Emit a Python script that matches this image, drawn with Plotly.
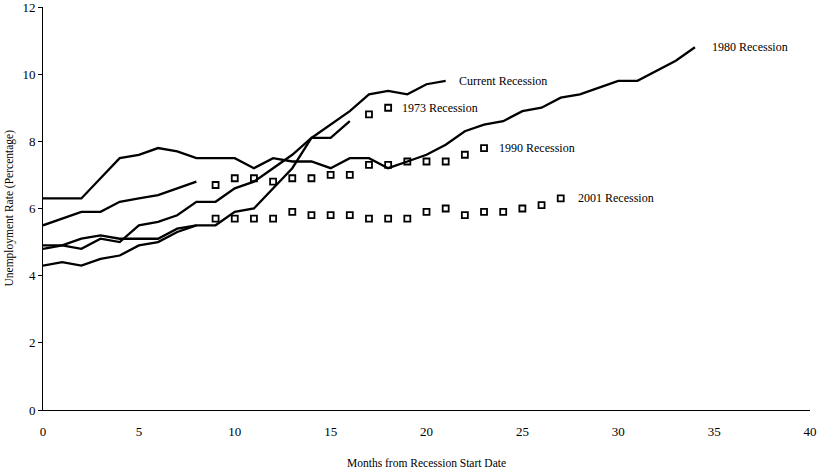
import plotly.graph_objects as go

# Months from recession start
months_1980 = list(range(0, 35))
rate_1980 = [6.3, 6.3, 6.3, 6.9, 7.5, 7.6, 7.8, 7.7, 7.5, 7.5, 7.5, 7.2, 7.5, 7.4, 7.4,
             7.2, 7.5, 7.5, 7.2, 7.4, 7.6, 7.9, 8.3, 8.5, 8.6, 8.9, 9.0, 9.3, 9.4, 9.6,
             9.8, 9.8, 10.1, 10.4, 10.8]

months_current = list(range(0, 22))
rate_current = [4.9, 4.9, 4.8, 5.1, 5.0, 5.5, 5.6, 5.8, 6.2, 6.2, 6.6, 6.8, 7.2, 7.6,
                8.1, 8.5, 8.9, 9.4, 9.5, 9.4, 9.7, 9.8]

months_1973_line = list(range(0, 17))
rate_1973_line = [4.8, 4.9, 5.1, 5.2, 5.1, 5.1, 5.1, 5.4, 5.5, 5.5, 5.9, 6.0, 6.6, 7.2,
                  8.1, 8.1, 8.6]
months_1973_post = [17, 18]
rate_1973_post = [8.8, 9.0]

months_1990_line = list(range(0, 9))
rate_1990_line = [5.5, 5.7, 5.9, 5.9, 6.2, 6.3, 6.4, 6.6, 6.8]
months_1990_post = list(range(9, 24))
rate_1990_post = [6.7, 6.9, 6.9, 6.8, 6.9, 6.9, 7.0, 7.0, 7.3, 7.3, 7.4, 7.4, 7.4, 7.6, 7.8]

months_2001_line = list(range(0, 9))
rate_2001_line = [4.3, 4.4, 4.3, 4.5, 4.6, 4.9, 5.0, 5.3, 5.5]
months_2001_post = list(range(9, 28))
rate_2001_post = [5.7, 5.7, 5.7, 5.7, 5.9, 5.8, 5.8, 5.8, 5.7, 5.7, 5.7, 5.9, 6.0, 5.8,
                  5.9, 5.9, 6.0, 6.1, 6.3]

x_ticks = [0, 5, 10, 15, 20, 25, 30, 35, 40]
y_ticks = [0, 2, 4, 6, 8, 10, 12]

labels = ["1980 Recession", "Current Recession", "1973 Recession", "1990 Recession", "2001 Recession"]

FONT = "Liberation Serif, Times New Roman, serif"

fig = go.Figure()
line_style = dict(color="black", width=2.3)
marker_style = dict(symbol="square-open", size=6, color="black", line=dict(width=1.8, color="black"))

for xs, ys in [(months_2001_line, rate_2001_line), (months_1990_line, rate_1990_line),
               (months_1973_line, rate_1973_line), (months_current, rate_current),
               (months_1980, rate_1980)]:
    fig.add_trace(go.Scatter(x=xs, y=ys, mode="lines", line=line_style, showlegend=False,
                             hoverinfo="skip"))

for xs, ys in [(months_2001_post, rate_2001_post), (months_1990_post, rate_1990_post),
               (months_1973_post, rate_1973_post)]:
    fig.add_trace(go.Scatter(x=xs, y=ys, mode="markers", marker=marker_style, showlegend=False,
                             hoverinfo="skip", cliponaxis=False))

label_pos = [
    (months_1980[-1], rate_1980[-1], 0.8),
    (months_current[-1], rate_current[-1], 0.6),
    (months_1973_post[-1], rate_1973_post[-1], 0.6),
    (months_1990_post[-1], rate_1990_post[-1], 0.7),
    (months_2001_post[-1], rate_2001_post[-1], 0.8),
]
for text, (lx, ly, dx) in zip(labels, label_pos):
    fig.add_annotation(x=lx + dx, y=ly, text=text, showarrow=False, xanchor="left",
                       yanchor="middle", font=dict(family=FONT, size=12, color="black"))

fig.add_annotation(xref="paper", yref="paper", x=0, y=0.5, xshift=-34, text="Unemployment Rate (Percentage)",
                   textangle=-90, showarrow=False, xanchor="center", yanchor="middle",
                   font=dict(family=FONT, size=11.5, color="black"))
fig.add_annotation(xref="paper", yref="paper", x=0.5, y=0, yshift=-53, text="Months from Recession Start Date",
                   showarrow=False, xanchor="center", yanchor="middle",
                   font=dict(family=FONT, size=11.5, color="black"))

fig.update_layout(
    width=823, height=472,
    margin=dict(l=43, r=13, t=7, b=62, autoexpand=False),
    paper_bgcolor="white", plot_bgcolor="white",
    font=dict(family=FONT, size=12, color="black"),
    xaxis=dict(range=[0, 40], tickvals=x_ticks, ticktext=[str(v) for v in x_ticks],
               showgrid=False, zeroline=False, showline=True, linecolor="black", linewidth=1,
               ticks="outside", ticklen=9, tickcolor="rgba(0,0,0,0)", automargin=False,
               ticklabeloverflow="allow",
               tickfont=dict(family=FONT, size=13, color="black")),
    yaxis=dict(range=[0, 12], tickvals=y_ticks, ticktext=[str(v) for v in y_ticks],
               showgrid=False, zeroline=False, showline=True, linecolor="black", linewidth=1,
               ticks="outside", ticklen=4, tickcolor="black", automargin=False,
               ticklabeloverflow="allow",
               tickfont=dict(family=FONT, size=13, color="black")),
)

fig.write_html("out.html", config={"displayModeBar": False},
               post_script="document.body.style.margin='0';document.body.style.padding='0';")
